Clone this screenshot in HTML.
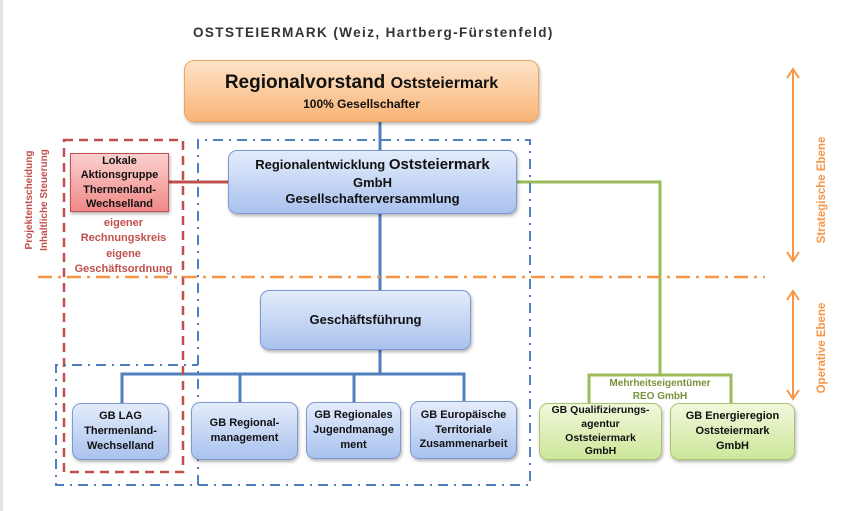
<!DOCTYPE html>
<html><head><meta charset="utf-8"><style>
body{margin:0;width:850px;height:511px;background:#fff;position:relative;overflow:hidden;font-family:"Liberation Sans",sans-serif;}
.b{position:absolute;box-sizing:border-box;text-align:center;font-weight:bold;color:#111;display:flex;flex-direction:column;justify-content:center;align-items:center;line-height:1.35;}
.blue{background:linear-gradient(#e4ecfb,#a9c2ee);border:1px solid #7d9bd0;border-radius:9px;box-shadow:1px 2px 3px rgba(0,0,0,.3);}
.green{background:linear-gradient(#f1f8dc,#cde79a);border:1px solid #a8c870;border-radius:9px;box-shadow:1px 2px 3px rgba(0,0,0,.3);}
.t{position:absolute;white-space:nowrap;font-weight:bold;}
svg{position:absolute;left:0;top:0;}
</style></head><body>
<div style="position:absolute;left:0;top:0;width:3px;height:511px;background:#e4e4e4"></div>
<svg width="850" height="511">
<g stroke="#4f7fbd" stroke-width="3" fill="none">
<line x1="380" y1="122" x2="380" y2="150"/>
<line x1="380" y1="214" x2="380" y2="290"/>
<line x1="380" y1="350" x2="380" y2="374"/>
<polyline points="122,403 122,374 464,374 464,403"/>
<line x1="240" y1="374" x2="240" y2="403"/>
<line x1="354" y1="374" x2="354" y2="403"/>
</g>
<line x1="169" y1="182" x2="228" y2="182" stroke="#c0504d" stroke-width="3"/>
<g stroke="#9bbb59" stroke-width="3" fill="none">
<polyline points="517,182 660,182 660,374"/>
<polyline points="589,403 589,375 731,375 731,403"/>
</g>
<rect x="64" y="140" width="119" height="332" fill="none" stroke="#c0504d" stroke-width="2.5" stroke-dasharray="9,6"/>
<g stroke="#4f7fbd" stroke-width="2" fill="none" stroke-dasharray="10,6,2,6">
<polyline points="198,485 198,140 530,140 530,485 56,485 56,365 198,365"/>
</g>
<line x1="38" y1="277" x2="765" y2="277" stroke="#f79646" stroke-width="2.5" stroke-dasharray="14,6,3,6"/>
<g stroke="#f79646" stroke-width="2" fill="none">
<line x1="793" y1="70" x2="793" y2="260"/>
<polyline points="787,78 793,69 799,78"/><polyline points="787,252 793,261 799,252"/>
<line x1="793" y1="292" x2="793" y2="398"/>
<polyline points="787,300 793,291 799,300"/><polyline points="787,390 793,399 799,390"/>
</g>
</svg>
<div class="t" style="left:193px;top:25px;font-size:13.5px;color:#333;letter-spacing:1.4px">OSTSTEIERMARK (Weiz, Hartberg-Fürstenfeld)</div>
<div class="b" style="left:184px;top:60px;width:355px;height:62px;background:linear-gradient(#fde3c8,#f9b477);border:1px solid #f0a560;border-radius:10px;box-shadow:1px 2px 3px rgba(0,0,0,.3)">
<div style="font-size:19px">Regionalvorstand <span style="font-size:16px">Oststeiermark</span></div><div style="font-size:12px">100% Gesellschafter</div></div>
<div class="b blue" style="left:228px;top:150px;width:289px;height:64px;font-size:13px;line-height:1.25">
<div>Regionalentwicklung <span style="font-size:15px">Oststeiermark</span></div><div>GmbH</div><div>Gesellschafterversammlung</div></div>
<div class="b" style="left:70px;top:153px;width:99px;height:59px;background:linear-gradient(#fbd0cf,#f08a88);border:1px solid #c0504d;font-size:11px;line-height:1.3;box-shadow:1px 2px 3px rgba(0,0,0,.3)">Lokale<br>Aktionsgruppe<br>Thermenland-<br>Wechselland</div>
<div class="t" style="left:64px;top:216px;width:119px;text-align:center;color:#c0504d;font-size:11px;line-height:1.4;font-weight:bold">eigener<br>Rechnungskreis<br>eigene<br>Geschäftsordnung</div>
<div class="t" style="left:37px;top:200px;transform:translate(-50%,-50%) rotate(-90deg);color:#c0504d;font-size:10px;line-height:1.5;text-align:center">Projektentscheidung<br>Inhaltliche Steuerung</div>
<div class="b blue" style="left:260px;top:290px;width:211px;height:60px;font-size:13px">Geschäftsführung</div>
<div class="b blue" style="left:72px;top:403px;width:97px;height:57px;font-size:11px">GB LAG<br>Thermenland-<br>Wechselland</div>
<div class="b blue" style="left:191px;top:402px;width:107px;height:58px;font-size:11px">GB Regional-<br>management</div>
<div class="b blue" style="left:306px;top:402px;width:95px;height:57px;font-size:11px">GB Regionales<br>Jugendmanage<br>ment</div>
<div class="b blue" style="left:410px;top:401px;width:107px;height:58px;font-size:11px">GB Europäische<br>Territoriale<br>Zusammenarbeit</div>
<div class="t" style="left:589px;top:377px;width:142px;text-align:center;color:#77933c;font-size:10px;line-height:1.3">Mehrheitseigentümer<br>REO GmbH</div>
<div class="b green" style="left:539px;top:403px;width:123px;height:57px;font-size:10.5px;line-height:1.3">GB Qualifizierungs-<br>agentur<br>Oststeiermark<br>GmbH</div>
<div class="b green" style="left:670px;top:403px;width:125px;height:57px;font-size:11px">GB Energieregion<br>Oststeiermark<br>GmbH</div>
<div class="t" style="left:822px;top:190px;transform:translate(-50%,-50%) rotate(-90deg);color:#f79646;font-size:11.5px">Strategische Ebene</div>
<div class="t" style="left:822px;top:348px;transform:translate(-50%,-50%) rotate(-90deg);color:#f79646;font-size:11.5px">Operative Ebene</div>
</body></html>
